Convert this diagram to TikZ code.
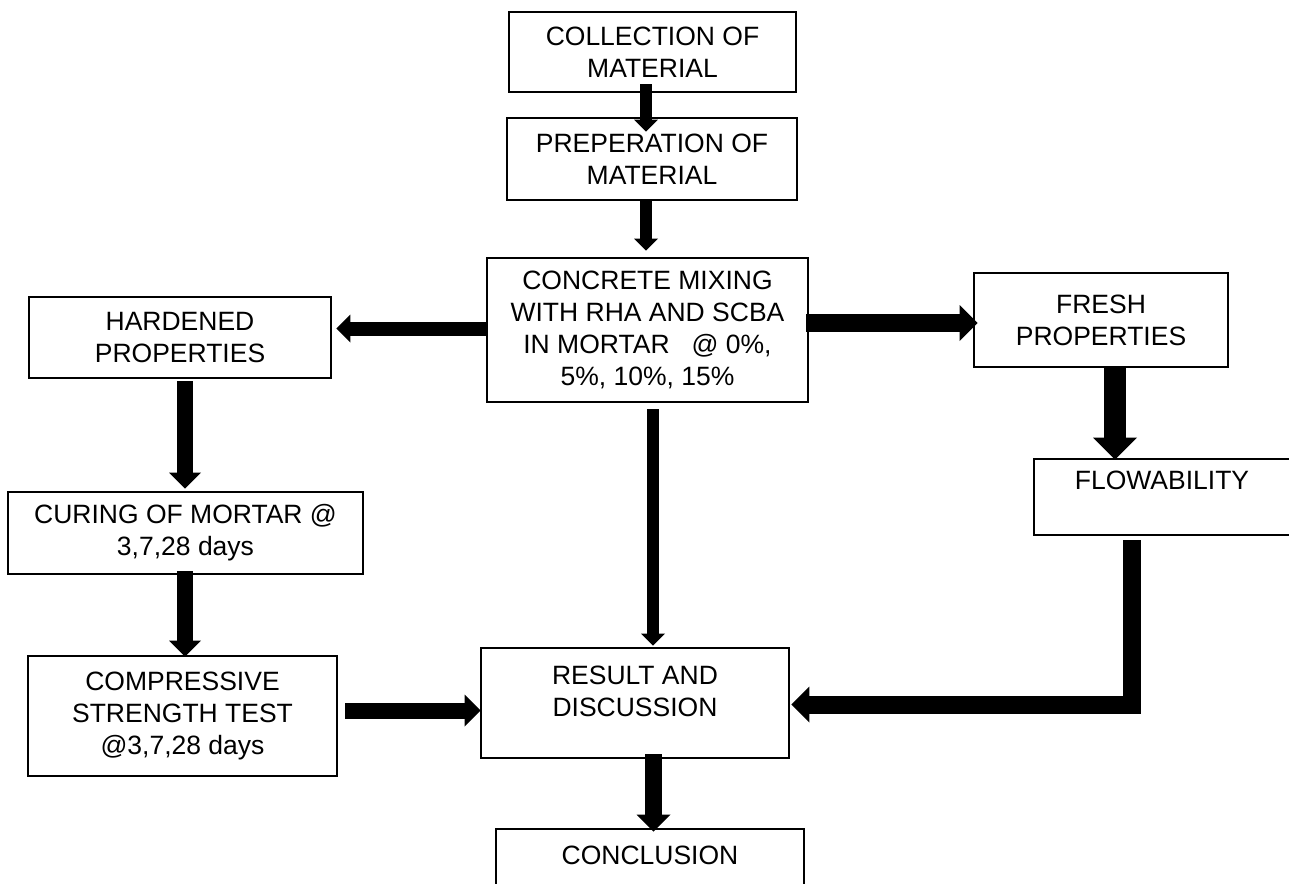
\documentclass[tikz,border=0pt]{standalone}
\usepackage{fontspec}
\setmainfont{Liberation Sans}
\usetikzlibrary{arrows.meta,calc}
\begin{document}
\begin{tikzpicture}[x=0.5pt, y=-0.5pt,
    box/.style={draw=black, line width=1.3pt, align=center, inner sep=0pt, font=\fontsize{13.25pt}{16pt}\selectfont},
    blockarrow/.style={black, line width=#1, -{Triangle[width=0pt 2 0, length=0pt 1 0, line width=0pt]}}]
    \useasboundingbox (0,0) rectangle (1289,883);
    \node[box, minimum width=143.5pt, minimum height=40pt] (collect) at (652.5,52) {COLLECTION OF\\MATERIAL};
    \node[box, minimum width=145pt, minimum height=41pt] (prep) at (652,159) {PREPERATION OF\\MATERIAL};
    \node[box, minimum width=160.5pt, minimum height=72pt] (mix) at (647.5,330) {CONCRETE MIXING\\WITH RHA AND SCBA\\IN MORTAR\ \ \ @ 0\%,\\5\%, 10\%, 15\%};
    \node[box, minimum width=151pt, minimum height=40.5pt] (hardened) at (180,337.5) {HARDENED\\PROPERTIES};
    \node[box, minimum width=127pt, minimum height=47pt] (fresh) at (1101,320) {FRESH\\PROPERTIES};
    \node[box, minimum width=128pt, minimum height=38pt, text depth=17pt] (flowab) at (1162,497) {FLOWABILITY};
    \node[box, minimum width=177.5pt, minimum height=41pt] (curing) at (185.5,533) {CURING OF MORTAR @\\3,7,28 days};
    \node[box, minimum width=154.5pt, minimum height=60pt] (compr) at (182.5,716) {COMPRESSIVE\\STRENGTH TEST\\@3,7,28 days};
    \node[box, minimum width=154pt, minimum height=55pt] (result) at (635,703) {RESULT AND\\DISCUSSION\\[-4pt]~};
    \node[box, minimum width=154pt, minimum height=42pt, text depth=16pt] (concl) at (650,871) {CONCLUSION};
    \draw[blockarrow=6pt] ($(collect.south)+(-6.5,-9)$) to ($(prep.north)+(-6,15)$);
    \draw[blockarrow=6pt] ($(prep.south)+(-6,0)$) to ($(mix.north)+(-1.5,-6)$);
    \draw[blockarrow=7pt] ($(mix.west)+(0,-1.5)$) to ($(hardened.east)+(4,-9)$);
    \draw[blockarrow=9pt] ($(mix.east)+(-3,-7)$) to ($(fresh.west)+(5,3)$);
    \draw[blockarrow=11pt] ($(fresh.south)+(14,-2)$) to ($(flowab.north)+(-47,2)$);
    \draw[blockarrow=9pt, line join=miter] ($(flowab.south)+(-30,4)$) |- ($(result.east)+(1,1.5)$);
    \draw[blockarrow=8pt] ($(hardened.south)+(5,2)$) to ($(curing.north)+(-0.5,-2)$);
    \draw[blockarrow=8pt] ($(curing.south)+(-0.5,-4)$) to ($(compr.north)+(2.5,2)$);
    \draw[blockarrow=8pt] ($(compr.east)+(7,-5.5)$) to ($(result.west)+(1,7.5)$);
    \draw[blockarrow=6pt] ($(mix.south)+(5.5,6)$) to ($(result.north)+(18,-1)$);
    \draw[blockarrow=8.5pt] ($(result.south)+(18.5,-5)$) to ($(concl.north)+(3.5,4)$);
\end{tikzpicture}
\end{document}
